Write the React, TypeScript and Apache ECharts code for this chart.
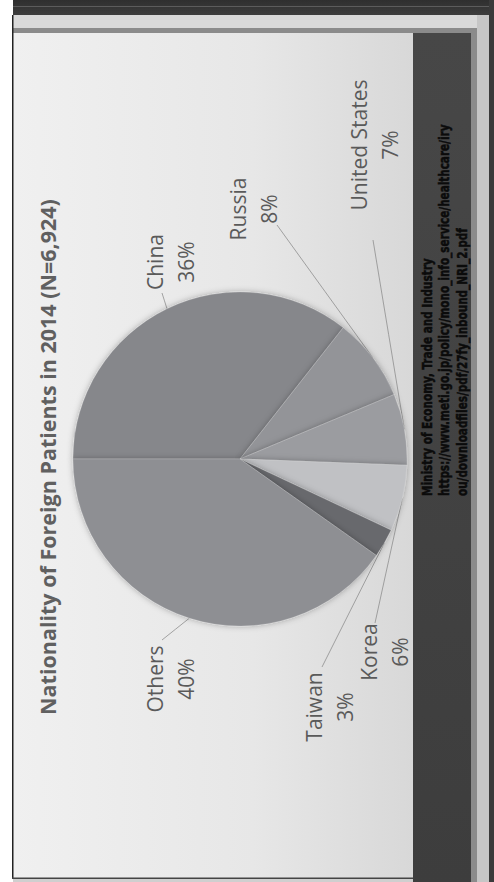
import React, { useEffect, useRef } from "react";
import * as echarts from "echarts";

// ---------- data ----------
const TITLE = "Nationality of Foreign Patients in 2014 (N=6,924)";
const categories = ["China", "Russia", "United States", "Korea", "Taiwan", "Others"];
// share of patients (%)
const shares = [35.6, 8.1, 6.9, 6.4, 2.8, 40.2];
const sourceLines = [
  "Ministry of Economy, Trade and Industry",
  "https://www.meti.go.jp/policy/mono_info_service/healthcare/iry",
  "ou/downloadfiles/pdf/27fy_inbound_NRI_2.pdf",
];

// ---------- styles / layout (slide frame before rotation, px) ----------
const sliceColors = ["#86878b", "#939498", "#9b9ca0", "#c0c1c4", "#68696d", "#8e8f93"];
const W = 882;
const H = 494;
const PIE_CENTER = [423, 240];
const PIE_R = 167;
const LABEL_CENTER: Record<string, number[]> = {
  China: [620, 170],
  Russia: [673, 253],
  "United States": [737, 374],
  Korea: [230, 384],
  Taiwan: [175, 329],
  Others: [203, 170],
};
const LABEL_ANCHOR: Record<string, number[]> = {
  China: [589, 162],
  Russia: [657, 277],
  "United States": [642, 373],
  Korea: [259, 375],
  Taiwan: [215, 322],
  Others: [242, 162],
};

function rect(x: number, y: number, w: number, h: number, fill: any, z = 0) {
  return { type: "rect", z, silent: true, shape: { x, y, width: w, height: h }, style: { fill } };
}

export default function App() {
  const ref = useRef<HTMLDivElement>(null);
  useEffect(() => {
    if (!ref.current) return;
    const chart = echarts.init(ref.current, undefined, { renderer: "svg" });
    const LG = echarts.graphic.LinearGradient;
    const graphic: any[] = [
      // outer dark texture (page top) and right edge
      rect(867, 13, 15, 481, new LG(0, 0, 1, 0, [
        { offset: 0, color: "#3d3d3d" },
        { offset: 1, color: "#2f2f2f" },
      ])),
      rect(875, 13, 0.8, 481, "#6a6a6a"),
      rect(0, 489, 882, 5, "#3a3a3a"),
      // light outer panel
      rect(0, 13, 867, 476, "#cfcfcf"),
      rect(854, 13, 13, 464, "#d9d9d9"),
      // grey frame lines
      rect(849, 13, 5, 464, "#8b8b8b"),
      rect(0, 471, 854, 6, "#8b8b8b"),
      rect(0, 477, 867, 12, "#c6c6c6"),
      // dark footer band
      rect(0, 413, 849, 58, new LG(1, 0, 0, 0, [
        { offset: 0, color: "#474747" },
        { offset: 1, color: "#3d3d3d" },
      ])),
      // inner slide
      rect(3, 13, 846, 400, new LG(0, 0, 0, 1, [
        { offset: 0, color: "#f0f0f0" },
        { offset: 0.6, color: "#e7e7e7" },
        { offset: 1, color: "#d8d8d8" },
      ])),
      // black borders
      rect(3, 12, 864, 1.5, "#222222"),
      rect(3, 12, 1.5, 401, "#444444"),
      {
        type: "text",
        z: 10,
        silent: true,
        x: 425,
        y: 47,
        style: {
          text: TITLE,
          fill: "#606060",
          fontFamily: "Open Sans",
          fontWeight: "bold",
          fontSize: 21.5,
          textAlign: "center",
          textVerticalAlign: "middle",
        },
      },
      ...sourceLines.map((t, i) => ({
        type: "text",
        z: 10,
        silent: true,
        x: 386,
        y: 427 + i * 17.5,
        scaleX: 0.8,
        style: {
          text: t,
          fill: "#0b0b0b",
          stroke: "#0b0b0b",
          lineWidth: 0.5,
          fontFamily: '"DejaVu Sans Condensed", "DejaVu Sans", sans-serif',
          fontWeight: "bold",
          fontSize: 14.5,
          textAlign: "left",
          textVerticalAlign: "middle",
        },
      })),
    ];

    chart.setOption({
      animation: false,
      graphic,
      series: [
        {
          type: "pie",
          silent: true,
          center: PIE_CENTER,
          radius: PIE_R,
          startAngle: 90,
          clockwise: true,
          avoidLabelOverlap: false,
          data: categories.map((c, i) => ({
            name: c,
            value: shares[i],
            itemStyle: { color: sliceColors[i] },
          })),
          itemStyle: {
            borderColor: "rgba(255,255,255,0.25)",
            borderWidth: 0.6,
            shadowBlur: 6,
            shadowColor: "rgba(0,0,0,0.3)",
          },
          label: {
            show: true,
            position: "outside",
            formatter: (p: any) => `${p.name}\n${Math.round(p.percent)}%`,
            fontFamily: "Open Sans",
            fontSize: 21,
            lineHeight: 31,
            color: "#5a5a5a",
            align: "center",
          },
          labelLine: {
            show: true,
            length: 10,
            length2: 10,
            lineStyle: { color: "#8e8e8e", width: 0.8 },
          },
          labelLayout: (params: any) => {
            const name = categories[params.dataIndex];
            const c = LABEL_CENTER[name];
            const a = LABEL_ANCHOR[name];
            const pts = params.labelLinePoints;
            const edge = pts ? pts[0] : a;
            return {
              x: c[0],
              y: c[1],
              align: "center",
              verticalAlign: "middle",
              labelLinePoints: [
                [edge[0], edge[1]],
                [(edge[0] + a[0]) / 2, (edge[1] + a[1]) / 2],
                [a[0], a[1]],
              ],
            };
          },
          emphasis: { disabled: true },
        },
      ],
    });
    return () => chart.dispose();
  }, []);

  return (
    <div
      style={{
        position: "fixed",
        left: 0,
        top: 0,
        width: 494,
        height: 882,
        overflow: "hidden",
        background: "#ffffff",
      }}
    >
      <div
        ref={ref}
        style={{
          position: "absolute",
          left: 0,
          top: 0,
          width: W,
          height: H,
          transformOrigin: "0 0",
          transform: "translate(0px, 882px) rotate(-90deg)",
        }}
      />
    </div>
  );
}
